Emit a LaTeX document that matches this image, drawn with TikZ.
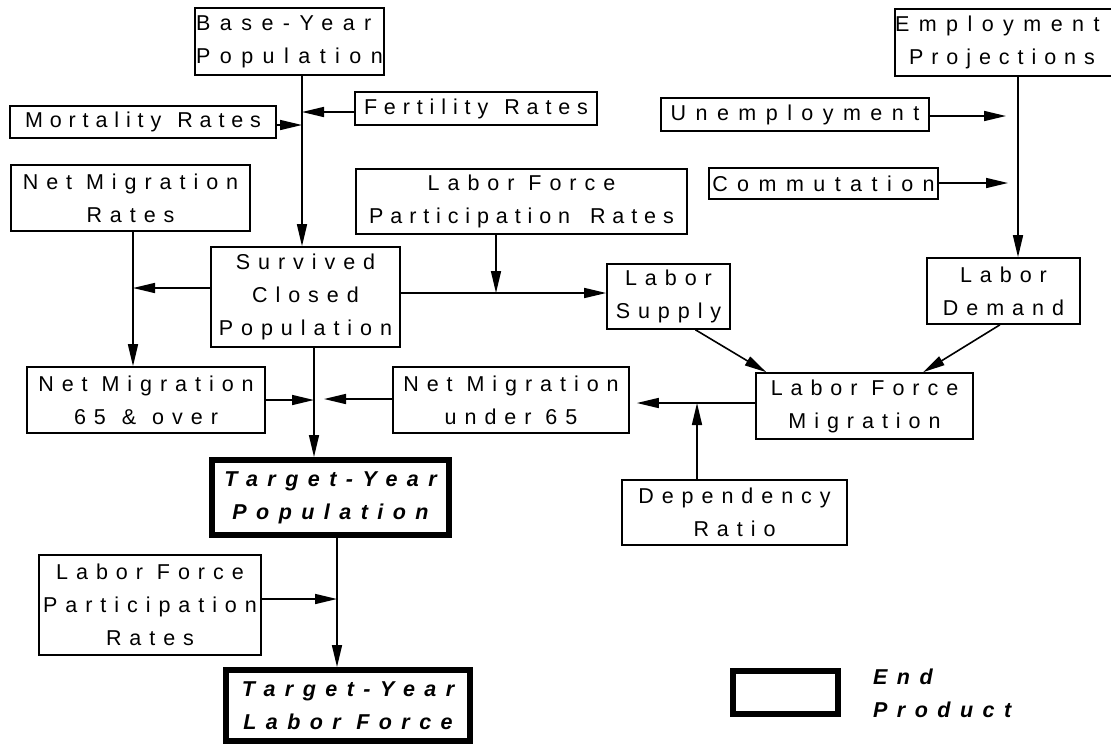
\documentclass[tikz,border=0pt]{standalone}
\usepackage{fontspec}
\setmainfont[LetterSpace=37]{Liberation Sans}
\newfontfamily\widefont[LetterSpace=44]{Liberation Sans}
\newfontfamily\tightfont[LetterSpace=32]{Liberation Sans}
\usetikzlibrary{arrows.meta,calc}
\newcommand\fs{\fontsize{21.5}{33}\selectfont}
\newcommand\ws{\hspace{16pt}}
\tikzset{
 box/.style={draw, line width=1.6pt, inner sep=0pt, font=\fs, align=center},
 endbox/.style={draw, line width=6pt, inner sep=0pt, font=\widefont\fs\bfseries\itshape, align=center},
 conn/.style={line width=1.6pt, -{Triangle[length=22pt,width=10pt]}},
}
\begin{document}
\begin{tikzpicture}[x=1pt,y=-1pt]
\useasboundingbox (0,0) rectangle (1111,745);
\fill[white] (0,0) rectangle (1111,745);

\node[box,font=\widefont\fs,minimum width=189pt,minimum height=67pt,align=left] (base) at (289.5,41.5) {Base-Year\\Population};
\node[box,font=\tightfont\fs,minimum width=266pt,minimum height=32pt] (mort) at (143,122) {Mortality\ws Rates};
\node[box,font=\tightfont\fs,minimum width=242pt,minimum height=33pt] (fert) at (476,108.5) {Fertility\ws Rates};
\node[box,minimum width=239pt,minimum height=66pt] (nmr) at (130.5,198) {Net Migration\\Rates};
\node[box,minimum width=331pt,minimum height=65pt] (lfpr) at (521.5,201.5) {Labor Force\\{\tightfont Participation\hspace{20pt}Rates}};
\node[box,minimum width=189pt,minimum height=100pt] (surv) at (305.5,297) {Survived\\Closed\\Population};
\node[box,minimum width=123pt,minimum height=65pt] (supply) at (668.5,296.5) {Labor\\Supply};
\node[box,font=\widefont\fs,minimum width=230pt,minimum height=67pt,text width=300pt,align=left] (emp) at (1045,42.5) {Employment\\\hspace*{14pt}{\normalfont\fs Projections}};
\node[box,font=\widefont\fs,minimum width=268pt,minimum height=33pt] (unemp) at (795,114.5) {Unemployment};
\node[box,font=\widefont\fs,minimum width=229pt,minimum height=31pt] (comm) at (823.5,183.5) {Commutation};
\node[box,minimum width=153pt,minimum height=66pt] (demand) at (1003.5,291) {Labor\\Demand};
\node[box,minimum width=217pt,minimum height=66pt] (lfm) at (864.5,406) {Labor Force\\Migration};
\node[box,minimum width=238pt,minimum height=66pt] (nmo) at (146,400) {Net Migration\\65\ws\&\ws over};
\node[box,minimum width=236pt,minimum height=66pt] (nmu) at (511,400) {Net Migration\\under 65};
\node[endbox,minimum width=237pt,minimum height=75pt] (tpop) at (330.5,497.5) {Target-Year\\Population};
\node[box,minimum width=225pt,minimum height=65pt] (dep) at (734.5,512.5) {Dependency\\Ratio};
\node[box,minimum width=222pt,minimum height=100pt] (lfpr2) at (150,605) {Labor Force\\Participation\\Rates};
\node[endbox,minimum width=244pt,minimum height=71pt] (tlf) at (348,705.5) {Target-Year\\Labor Force};
\node[endbox,minimum width=105pt,minimum height=43pt] (legend) at (785.5,692.5) {};
\node[font=\widefont\fs\bfseries\itshape,align=left,anchor=west,inner sep=0pt] (endlabel) at (873,693.5) {End\\Product};

\coordinate (jf) at (302,112);
\coordinate (jm) at (302,125);
\draw[conn] (base.south -| jf) -- (surv.north -| jf);
\draw[conn] (fert.west |- jf) -- (jf);
\draw[conn] (mort.east |- jm) -- (jm);

\coordinate (jl) at (133,288);
\draw[conn] (surv.west |- jl) -- (jl);
\draw[conn] (nmr.south -| jl) -- (nmo.north -| jl);

\coordinate (jlf) at (496,293);
\draw[conn] (surv.east |- jlf) -- (supply.west |- jlf);
\draw[conn] (lfpr.south -| jlf) -- (jlf);

\coordinate (je) at (1018,0);
\draw[conn] (emp.south -| je) -- (demand.north -| je);
\coordinate (ju) at (1006,116);
\draw[conn] (unemp.east |- ju) -- (ju);
\coordinate (jc) at (1008,183);
\draw[conn] (comm.east |- jc) -- (jc);

\draw[conn] (supply.-51) -- (lfm.161.5);
\draw[conn] (demand.-96) -- (lfm.30.7);

\coordinate (jd) at (697,403);
\draw[conn] (lfm.west |- jd) -- ($(nmu.east |- jd)+(7,0)$);
\draw[conn] (dep.north -| jd) -- (jd);

\coordinate (jt) at (314,400);
\coordinate (jt2) at (324,399);
\draw[conn] (surv.south -| jt) -- (tpop.north -| jt);
\draw[conn] (nmo.east |- jt) -- (jt);
\draw[conn] (nmu.west |- jt2) -- (jt2);

\coordinate (jb) at (337,599);
\draw[conn] (tpop.south -| jb) -- (tlf.north -| jb);
\draw[conn] (lfpr2.east |- jb) -- (jb);
\end{tikzpicture}
\end{document}
